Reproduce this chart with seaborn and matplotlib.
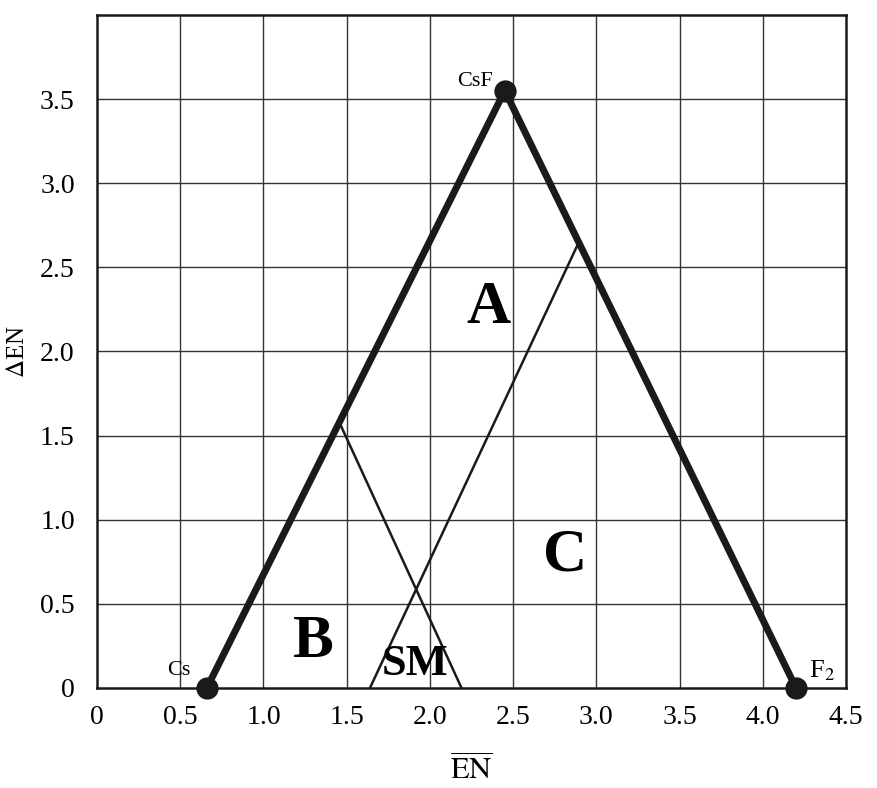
import matplotlib
matplotlib.use("Agg")
import matplotlib.pyplot as plt
import seaborn as sns
import pandas as pd

# Vertices of the van Arkel-Ketelaar triangle (mean EN, delta EN)
vertex_names = ["Cs", "CsF", "F2"]
vertex_x = [0.66, 2.45, 4.20]
vertex_y = [0.0, 3.55, 0.0]

# Inner boundary lines
line1_x = [1.46, 2.19]
line1_y = [1.57, 0.0]
line2_x = [1.64, 2.90]
line2_y = [0.0, 2.66]

# Region labels
region_names = ["A", "B", "SM", "C"]
region_x = [2.35, 1.30, 1.91, 2.81]
region_y = [2.26, 0.27, 0.14, 0.79]
region_sizes = [44, 44, 32, 44]

xticks = [0, 0.5, 1.0, 1.5, 2.0, 2.5, 3.0, 3.5, 4.0, 4.5]
yticks = [0, 0.5, 1.0, 1.5, 2.0, 2.5, 3.0, 3.5]

sns.set_style("white")
plt.rcParams["font.family"] = ["Liberation Serif", "DejaVu Serif"]
plt.rcParams["mathtext.fontset"] = "stix"
plt.rcParams["text.color"] = "black"
plt.rcParams["xtick.color"] = "black"
plt.rcParams["ytick.color"] = "black"
plt.rcParams["axes.labelcolor"] = "black"

fig = plt.figure(figsize=(8.78, 7.88), dpi=100)
ax = fig.add_axes([0.1105, 0.127, 0.853, 0.854])

# grid
for xv in [0.5, 1.0, 1.5, 2.0, 2.5, 3.0, 3.5, 4.0]:
    ax.axvline(xv, color="#333333", lw=1.0, zorder=1)
for yv in [0.5, 1.0, 1.5, 2.0, 2.5, 3.0, 3.5]:
    ax.axhline(yv, color="#333333", lw=1.0, zorder=1)

tri = pd.DataFrame({"x": vertex_x, "y": vertex_y})
sns.lineplot(data=tri, x="x", y="y", sort=False, color="#1a1a1a",
             lw=5, ax=ax, zorder=3)

l1 = pd.DataFrame({"x": line1_x, "y": line1_y})
l2 = pd.DataFrame({"x": line2_x, "y": line2_y})
sns.lineplot(data=l1, x="x", y="y", sort=False, color="#1a1a1a", lw=1.8, ax=ax, zorder=3)
sns.lineplot(data=l2, x="x", y="y", sort=False, color="#1a1a1a", lw=1.8, ax=ax, zorder=3)

pts = pd.DataFrame({"x": vertex_x, "y": vertex_y, "name": vertex_names})
sns.scatterplot(data=pts, x="x", y="y", color="#1a1a1a", s=220, ax=ax, zorder=5,
                clip_on=False, edgecolor="#1a1a1a")

ax.text(vertex_x[0] - 0.1, vertex_y[0] + 0.05, "Cs", fontsize=16, ha="right", va="bottom")
ax.text(vertex_x[1] - 0.07, vertex_y[1] + 0.0, "CsF", fontsize=16, ha="right", va="bottom")
ax.text(vertex_x[2] + 0.08, vertex_y[2] + 0.03, r"F$_2$", fontsize=19, ha="left", va="bottom")

for name, xv, yv, fs in zip(region_names, region_x, region_y, region_sizes):
    ax.text(xv, yv, name, fontsize=fs, fontweight="bold", ha="center", va="center")

ax.set_xlim(0, 4.5)
ax.set_ylim(0, 4.0)
ax.set_xticks(xticks)
ax.set_xticklabels(["0", "0.5", "1.0", "1.5", "2.0", "2.5", "3.0", "3.5", "4.0", "4.5"])
ax.set_yticks(yticks)
ax.set_yticklabels(["0", "0.5", "1.0", "1.5", "2.0", "2.5", "3.0", "3.5"])
ax.tick_params(axis="both", labelsize=20, length=0)
ax.tick_params(axis="x", pad=12)
ax.tick_params(axis="y", pad=16)
for sp in ax.spines.values():
    sp.set_color("#1a1a1a")
    sp.set_linewidth(1.8)

ax.set_xlabel(r"$\overline{\mathrm{EN}}$", fontsize=22, labelpad=18)
ax.set_ylabel(r"$\Delta$EN", fontsize=18, labelpad=8)

fig.savefig("out.png", dpi=100)
